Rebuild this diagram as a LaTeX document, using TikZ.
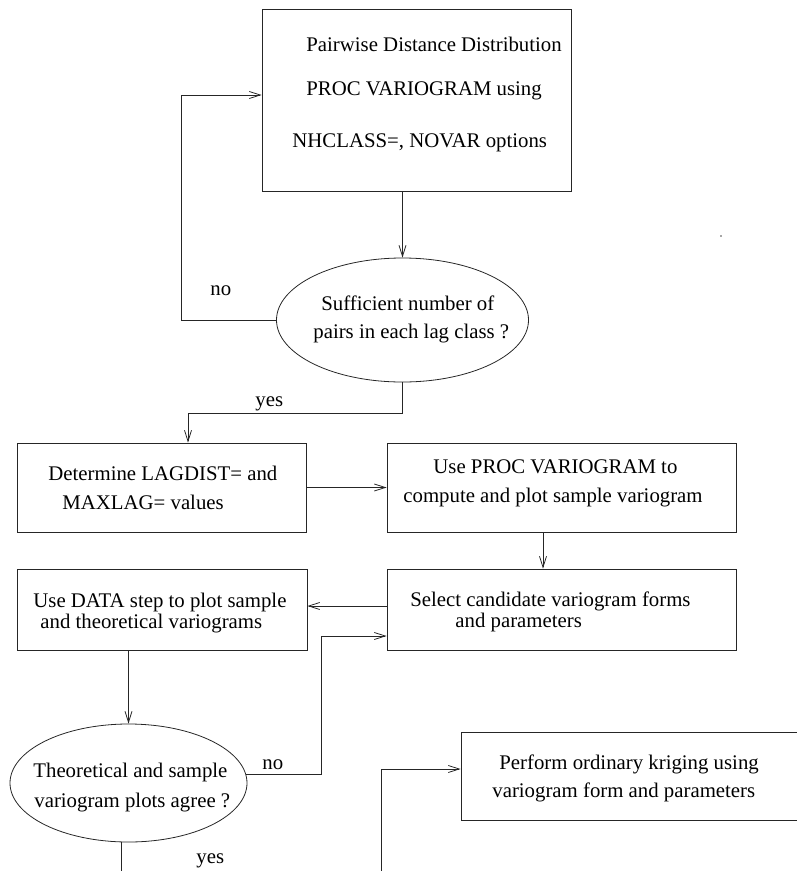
\documentclass[tikz,border=0pt]{standalone}
\usepackage{fontspec}
\setmainfont{Liberation Serif}
\newfontfamily\flowfont{Liberation Serif}
\usetikzlibrary{arrows.meta,shapes.geometric}
\begin{document}
\begin{tikzpicture}[x=1pt,y=-1pt,line width=0.8pt,
  box/.style={draw=black!85, rectangle, inner sep=0pt},
  oval/.style={draw=black!85, ellipse, inner sep=0pt},
  txt/.style={anchor=base west, inner sep=0pt, font=\flowfont\fontsize{20.8}{25}\selectfont},
  arr/.style={draw=black!85, -{Straight Barb[length=11pt,width=7pt]}},
  ln/.style={draw=black!85}]
\useasboundingbox (0,0) rectangle (797,871);
\clip (0,0) rectangle (797,871);

% shapes
\node[box, minimum width=309pt, minimum height=182pt] (b1) at (416.5,100) {};
\node[oval, minimum width=252pt, minimum height=124pt] (e1) at (402.5,320) {};
\node[box, minimum width=289pt, minimum height=89pt] (b2) at (161.5,487.5) {};
\node[box, minimum width=349pt, minimum height=89pt] (b3) at (561.5,487.5) {};
\node[box, minimum width=290pt, minimum height=81pt] (b4) at (162,609.5) {};
\node[box, minimum width=349pt, minimum height=81pt] (b5) at (561.5,609.5) {};
\node[oval, minimum width=237pt, minimum height=118pt] (e2) at (128.5,783) {};
\node[box, minimum width=355pt, minimum height=88pt] (b6) at (638.5,776) {};
\fill[black!70] (721,236) circle (0.8pt);

% texts
\node[txt] (t1a) at (306,51) {Pairwise Distance Distribution};
\node[txt] (t1b) at (306,95) {PROC VARIOGRAM using};
\node[txt] (t1c) at (292,147) {NHCLASS=, NOVAR options};
\node[txt] (te1a) at (321,310) {Sufficient number of};
\node[txt] (te1b) at (313,338) {pairs in each lag class ?};
\node[txt] (t2a) at (48,480) {Determine LAGDIST= and};
\node[txt] (t2b) at (62,509) {MAXLAG= values};
\node[txt] (t3a) at (433,473) {Use PROC VARIOGRAM to};
\node[txt] (t3b) at (403,502) {compute and plot sample variogram};
\node[txt] (t4a) at (33,607) {Use DATA step to plot sample};
\node[txt] (t4b) at (40,628) {and theoretical variograms};
\node[txt] (t5a) at (410,606) {Select candidate variogram forms};
\node[txt] (t5b) at (455,627) {and parameters};
\node[txt] (te2a) at (33,777) {Theoretical and sample};
\node[txt] (te2b) at (34,807) {variogram plots agree ?};
\node[txt] (t6a) at (499,769) {Perform ordinary kriging using};
\node[txt] (t6b) at (492,797) {variogram form and parameters};
\node[txt] (lno1) at (210,295) {no};
\node[txt] (lyes1) at (255,406) {yes};
\node[txt] (lno2) at (262,769) {no};
\node[txt] (lyes2) at (196,863) {yes};

% helper coordinates
\coordinate (nol) at (181,95);
\coordinate (y1) at (188,413);
\coordinate (n2) at (321,636);
\coordinate (yesend) at (121,875);
\coordinate (kstart) at (381,875);

% connectors
\draw[arr] (e1.north |- b1.south) -- (e1.north);
\draw[arr] (e1.west) -| (nol) -- (nol -| b1.west);
\draw[arr] (e1.south) |- (y1) -- (y1 |- b2.north);
\draw[arr] (b2.east) -- (b3.west);
\draw[arr] ([xshift=-18.5pt]b3.south) -- ([xshift=-18.5pt]b5.north);
\draw[arr] ([yshift=3.5pt]b5.west) -- ([yshift=3.5pt]b4.east);
\draw[arr] (e2.north |- b4.south) -- (e2.north);
\draw[arr] (e2.4) -| (n2) -- (n2 -| b5.west);
\draw[ln] ([xshift=-7.5pt]e2.south) -- (yesend);
\draw[arr] (kstart) |- ([yshift=7pt]b6.west);
\end{tikzpicture}
\end{document}
